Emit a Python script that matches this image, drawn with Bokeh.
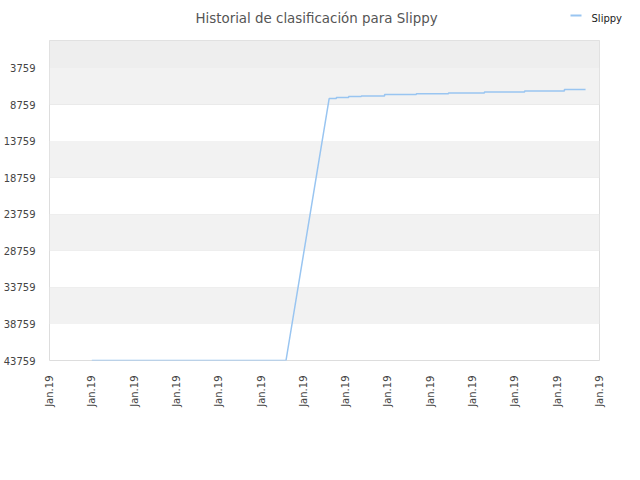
import math
from bokeh.plotting import figure
from bokeh.layouts import column
from bokeh.models import Range1d, FixedTicker, BoxAnnotation
from bokeh.core.properties import value
from bokeh.embed import file_html
from bokeh.resources import INLINE

# ---- data ----
title_text = "Historial de clasificación para Slippy"
series_name = "Slippy"
x_ticks = list(range(14))
x_tick_labels = ["Jan.19"] * 14
y_ticks = [3759, 8759, 13759, 18759, 23759, 28759, 33759, 38759, 43759]
pos_x = [1.0, 5.59, 6.61, 6.78, 6.78, 7.07, 7.07, 7.37, 7.37, 7.92, 7.92,
         8.67, 8.67, 9.43, 9.43, 10.28, 10.28, 11.23, 11.23, 12.17, 12.17, 12.67]
rank = [43759, 43759, 7946, 7946, 7809, 7809, 7672, 7672, 7577, 7577, 7400,
        7400, 7267, 7267, 7171, 7171, 7035, 7035, 6898, 6898, 6717, 6717]

FONT = "DejaVu Sans"
LINE_COLOR = "#99c5f1"

# ---- header: title + legend (frame left edge aligns with the chart frame) ----
head = figure(frame_width=580, frame_height=30, output_backend="svg",
              toolbar_location=None, x_range=Range1d(0, 580),
              y_range=Range1d(0, 30), x_axis_location=None,
              y_axis_location=None, min_border=0, min_border_left=44)
head.outline_line_color = None
head.grid.visible = False
head.text(x=[267], y=[11.7], text=[title_text], text_font=value(FONT),
          text_font_size="13.4px", text_color="#555555", text_align="center",
          text_baseline="alphabetic")
head.line(x=[521, 532], y=[15, 15], line_color=LINE_COLOR, line_width=2)
head.text(x=[542], y=[12.3], text=[series_name], text_font=value(FONT),
          text_font_size="10px", text_color="#222222", text_align="left",
          text_baseline="alphabetic")

# ---- main chart ----
p = figure(frame_width=550, frame_height=320, output_backend="svg",
           toolbar_location=None,
           x_range=Range1d(0, 13), y_range=Range1d(43759, 0),
           min_border_left=44, min_border_right=30, min_border_top=10,
           min_border_bottom=100)

p.background_fill_color = "white"
p.border_fill_color = "white"
p.outline_line_color = "#dddddd"

# background bands
p.add_layout(BoxAnnotation(top=0, bottom=y_ticks[0], fill_color="#eeeeee",
                           fill_alpha=1, line_alpha=0, level="underlay"))
for i in range(0, len(y_ticks) - 1, 2):
    p.add_layout(BoxAnnotation(top=y_ticks[i], bottom=y_ticks[i + 1],
                               fill_color="#f2f2f2", fill_alpha=1,
                               line_alpha=0, level="underlay"))

p.line(pos_x, rank, line_color=LINE_COLOR, line_width=1.5)

p.xgrid.visible = False
p.ygrid.grid_line_color = "#e2e2e2"
p.ygrid.ticker = FixedTicker(ticks=y_ticks)

p.yaxis.ticker = FixedTicker(ticks=y_ticks)
p.yaxis.axis_line_color = None
p.yaxis.major_tick_line_color = None
p.yaxis.minor_tick_line_color = None
p.yaxis.major_label_text_font = FONT
p.yaxis.major_label_text_font_size = "10px"
p.yaxis.major_label_text_color = "#444444"
p.yaxis.major_label_standoff = 8

p.xaxis.ticker = FixedTicker(ticks=x_ticks)
p.xaxis.major_label_overrides = {t: lab for t, lab in zip(x_ticks, x_tick_labels)}
p.xaxis.major_label_orientation = math.pi / 2
p.xaxis.axis_line_color = None
p.xaxis.major_tick_line_color = None
p.xaxis.minor_tick_line_color = None
p.xaxis.major_label_text_font = FONT
p.xaxis.major_label_text_font_size = "10px"
p.xaxis.major_label_text_color = "#444444"
p.xaxis.major_label_standoff = 9

layout = column(head, p, spacing=0)
open("out.html", "w").write(file_html(layout, INLINE))
